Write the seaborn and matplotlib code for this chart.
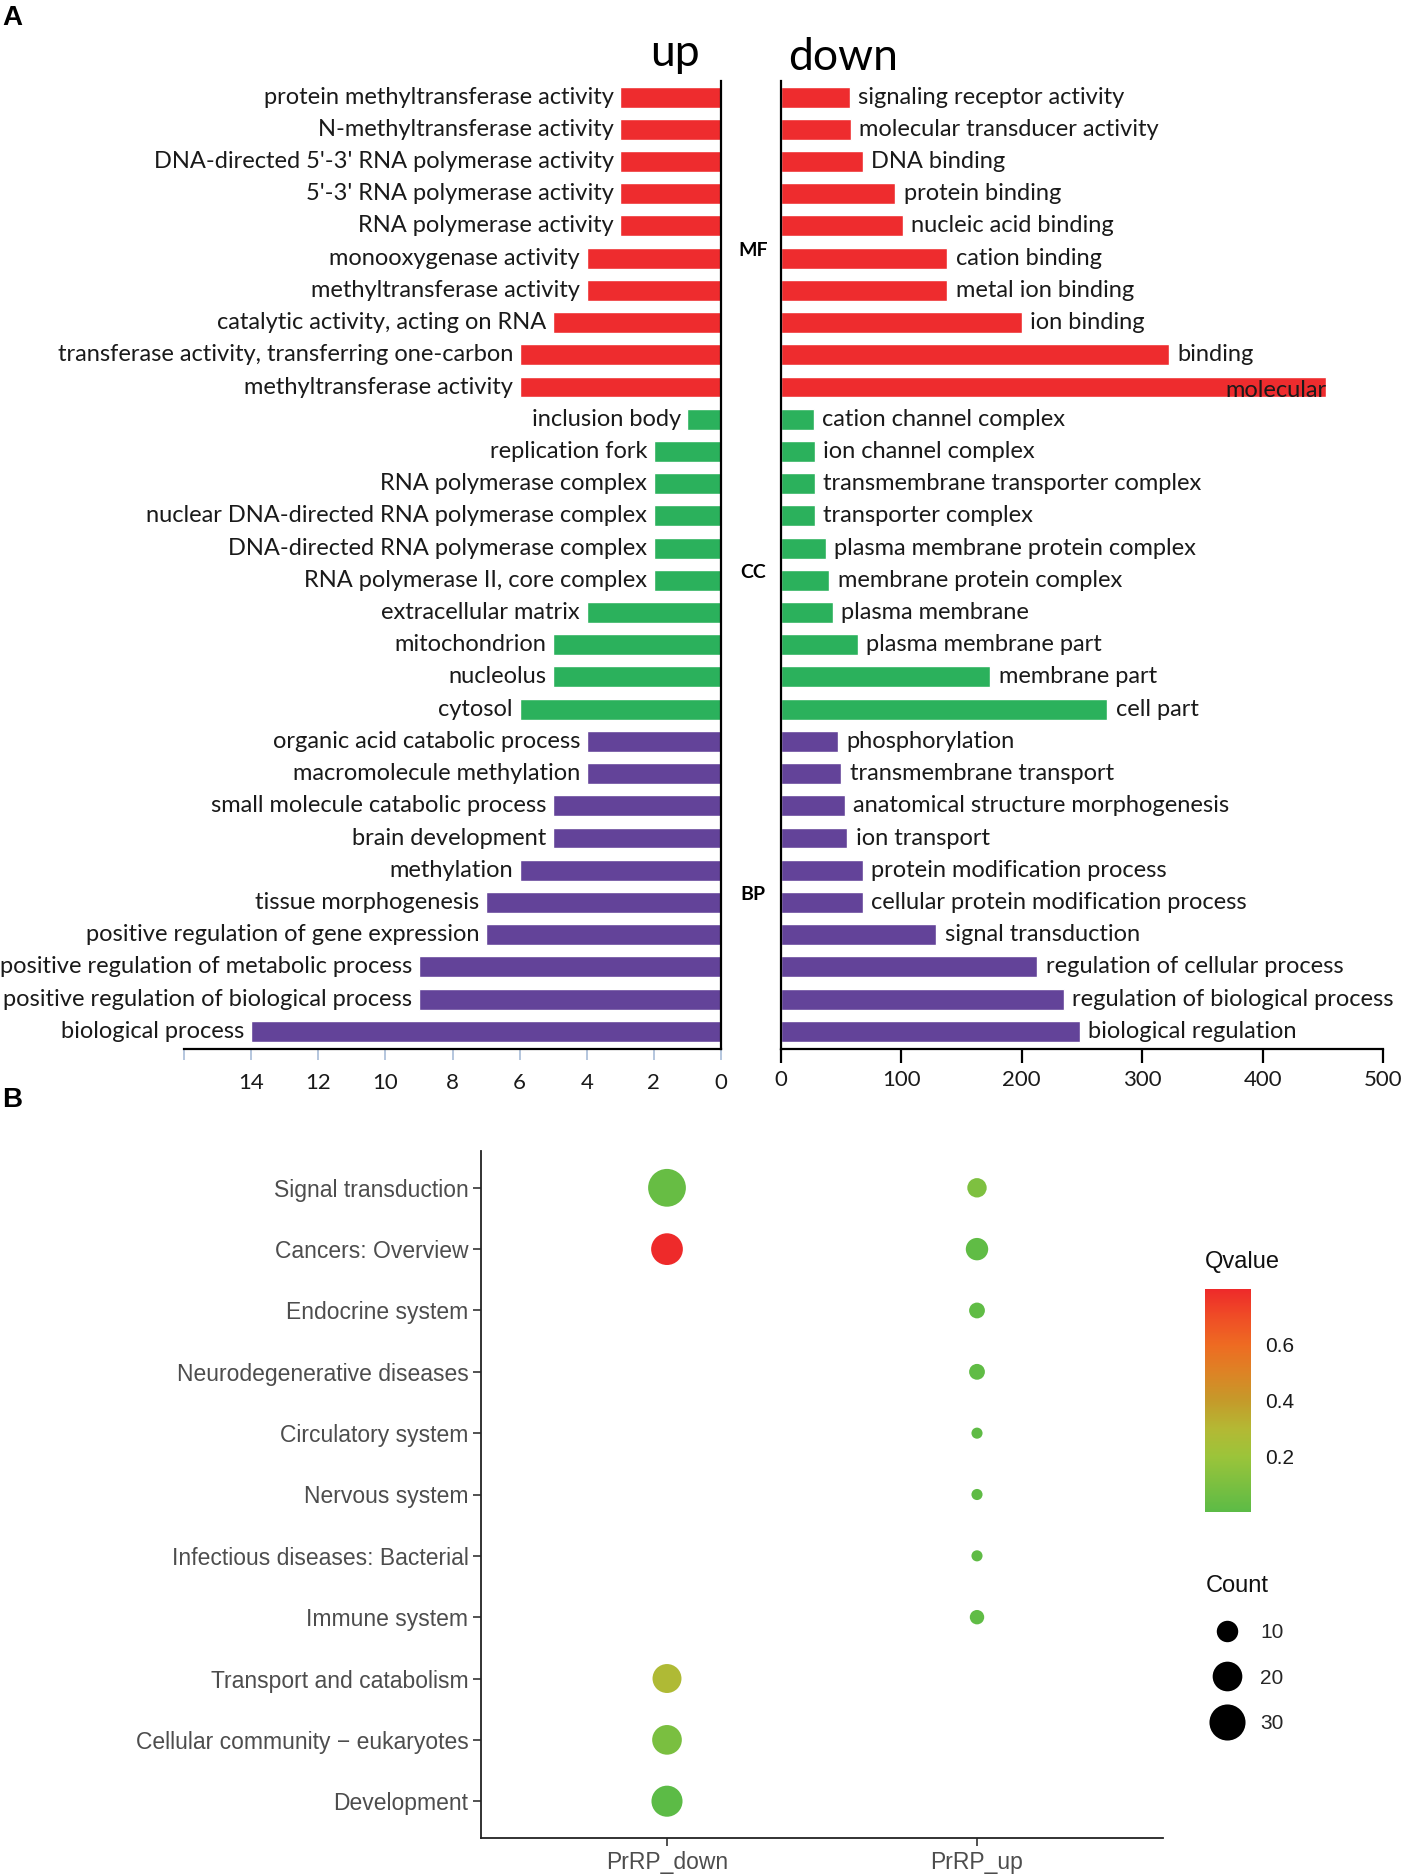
import matplotlib
matplotlib.use('Agg')
import matplotlib.pyplot as plt
import matplotlib.colors as mcolors
from matplotlib.lines import Line2D
import numpy as np
import pandas as pd
import seaborn as sns

# ---- Panel A: GO terms, up / down ----
go_class = ['MF'] * 10 + ['CC'] * 10 + ['BP'] * 10

up_terms = [
    'protein methyltransferase activity', 'N-methyltransferase activity',
    "DNA-directed 5'-3' RNA polymerase activity", "5'-3' RNA polymerase activity",
    'RNA polymerase activity', 'monooxygenase activity', 'methyltransferase activity',
    'catalytic activity, acting on RNA', 'transferase activity, transferring one-carbon',
    'methyltransferase activity',
    'inclusion body', 'replication fork', 'RNA polymerase complex',
    'nuclear DNA-directed RNA polymerase complex', 'DNA-directed RNA polymerase complex',
    'RNA polymerase II, core complex', 'extracellular matrix', 'mitochondrion',
    'nucleolus', 'cytosol',
    'organic acid catabolic process', 'macromolecule methylation',
    'small molecule catabolic process', 'brain development', 'methylation',
    'tissue morphogenesis', 'positive regulation of gene expression',
    'positive regulation of metabolic process', 'positive regulation of biological process',
    'biological process']
up_counts = [3, 3, 3, 3, 3, 4, 4, 5, 6, 6,
             1, 2, 2, 2, 2, 2, 4, 5, 5, 6,
             4, 4, 5, 5, 6, 7, 7, 9, 9, 14]

down_terms = [
    'signaling receptor activity', 'molecular transducer activity', 'DNA binding',
    'protein binding', 'nucleic acid binding', 'cation binding', 'metal ion binding',
    'ion binding', 'binding', 'molecular',
    'cation channel complex', 'ion channel complex', 'transmembrane transporter complex',
    'transporter complex', 'plasma membrane protein complex', 'membrane protein complex',
    'plasma membrane', 'plasma membrane part', 'membrane part', 'cell part',
    'phosphorylation', 'transmembrane transport', 'anatomical structure morphogenesis',
    'ion transport', 'protein modification process', 'cellular protein modification process',
    'signal transduction', 'regulation of cellular process',
    'regulation of biological process', 'biological regulation']
down_counts = [57, 58, 68, 95, 101, 138, 138, 200, 322, 453,
               27, 28, 28, 28, 37, 40, 43, 64, 174, 271,
               47, 50, 53, 55, 68, 68, 129, 213, 235, 248]

# ---- Panel B: KEGG dot plot ----
kegg_pathways = ['Signal transduction', 'Cancers: Overview', 'Endocrine system',
                 'Neurodegenerative diseases', 'Circulatory system', 'Nervous system',
                 'Infectious diseases: Bacterial', 'Immune system',
                 'Transport and catabolism', 'Cellular community \u2212 eukaryotes',
                 'Development']
kegg_groups = ['PrRP_down', 'PrRP_up']
dot_group = ['PrRP_down'] * 5 + ['PrRP_up'] * 8
dot_pathway = ['Signal transduction', 'Cancers: Overview', 'Transport and catabolism',
               'Cellular community \u2212 eukaryotes', 'Development',
               'Signal transduction', 'Cancers: Overview', 'Endocrine system',
               'Neurodegenerative diseases', 'Circulatory system', 'Nervous system',
               'Infectious diseases: Bacterial', 'Immune system']
dot_count = [33, 23, 19, 20, 22, 8, 11, 5, 5, 2, 2, 2, 4]
dot_qvalue = [0.04, 0.795, 0.28, 0.10, 0.005, 0.11, 0.02, 0.02, 0.02, 0.015, 0.015, 0.015, 0.02]

W, H = 1406, 1875


def box(x0, y0, x1, y1):
    # pixel box -> figure fraction [left, bottom, width, height]
    return [x0 / W, 1 - y1 / H, (x1 - x0) / W, (y1 - y0) / H]


sns.set_theme(style='white')
plt.rcParams['font.family'] = ['Lato', 'DejaVu Sans']

fig = plt.figure(figsize=(W / 100, H / 100), dpi=100)

class_colors = {'MF': '#ee2c2e', 'CC': '#2bb15c', 'BP': '#634399'}
text_col = '#1a1a1a'
label_size = 17

ax_up = fig.add_axes(box(184, 81, 721, 1049))
ax_dn = fig.add_axes(box(781, 81, 1383, 1049))

df_up = pd.DataFrame({'pos': range(len(up_terms)), 'term': up_terms,
                      'count': up_counts, 'cls': go_class})
df_dn = pd.DataFrame({'pos': range(len(down_terms)), 'term': down_terms,
                      'count': down_counts, 'cls': go_class})

for ax, d in [(ax_up, df_up), (ax_dn, df_dn)]:
    sns.barplot(data=d, x='count', y='pos', hue='cls', palette=class_colors,
                orient='h', dodge=False, width=0.65, saturation=1,
                legend=False, ax=ax)
    ax.set_ylim(29.55, -0.5)
    ax.set_yticks([])
    ax.set_xlabel('')
    ax.set_ylabel('')
    ax.set_facecolor('none')
    for s in ax.spines.values():
        s.set_visible(False)
    ax.spines['bottom'].set_visible(True)
    ax.spines['bottom'].set_color('black')
    ax.spines['bottom'].set_linewidth(1.6)

# left (up) panel
ax_up.set_xlim(16, 0)
ax_up.spines['right'].set_visible(True)
ax_up.spines['right'].set_color('black')
ax_up.spines['right'].set_linewidth(1.6)
ax_up.set_xticks(range(0, 17, 2))
ax_up.set_xticklabels([str(v) if v < 16 else '' for v in range(0, 17, 2)])
ax_up.tick_params(axis='x', bottom=True, direction='out', length=8, width=1.2,
                  color='#a8bcd8', labelsize=16, labelcolor=text_col, pad=9)
for i, (t, c) in enumerate(zip(up_terms, up_counts)):
    ax_up.text(c + 0.2, i, t, ha='right', va='center', fontsize=label_size, color=text_col)

# right (down) panel
ax_dn.set_xlim(0, 500)
ax_dn.spines['left'].set_visible(True)
ax_dn.spines['left'].set_color('black')
ax_dn.spines['left'].set_linewidth(1.6)
ax_dn.set_xticks(range(0, 501, 100))
ax_dn.tick_params(axis='x', bottom=True, direction='out', length=10, width=1.6,
                  color='black', labelsize=16, labelcolor=text_col, pad=5)
for i, (t, c) in enumerate(zip(down_terms, down_counts)):
    if c > 420:
        ax_dn.text(c, i + 0.1, t, ha='right', va='center', fontsize=label_size, color=text_col)
    else:
        ax_dn.text(c + 7, i, t, ha='left', va='center', fontsize=label_size, color=text_col)

# class labels between the two panels
for cls in ['MF', 'CC', 'BP']:
    mid = np.mean([i for i, g in enumerate(go_class) if g == cls]) + 0.25
    ax_dn.text(-0.047, mid, cls, transform=ax_dn.get_yaxis_transform(),
               ha='center', va='center', fontsize=14, fontweight='bold', color='black')

fig.text(675 / W, 1 - 54 / H, 'up', ha='center', va='center', fontsize=32, color='black')
fig.text(843 / W, 1 - 58 / H, 'down', ha='center', va='center', fontsize=32, color='black')
fig.text(2 / W, 1 - 18 / H, 'A', ha='left', va='center', fontsize=20, fontweight='bold',
         family='Liberation Sans', color='black')
fig.text(2 / W, 1 - 1100 / H, 'B', ha='left', va='center', fontsize=20, fontweight='bold',
         family='Liberation Sans', color='black')

# ---- Panel B ----
q_cmap = mcolors.LinearSegmentedColormap.from_list(
    'qv', [(0.0, '#5cbb46'), (0.25, '#9cc43a'), (0.375, '#b4b834'), (0.5, '#c59a2a'),
           (0.625, '#dd8325'), (0.75, '#ee6b22'), (0.875, '#ef4d26'), (1.0, '#ee2a2a')])
q_norm = mcolors.Normalize(min(dot_qvalue), max(dot_qvalue))
size_range = (64, 740)
count_norm = (min(dot_count), max(dot_count))

df_b = pd.DataFrame({'group': pd.Categorical(dot_group, categories=kegg_groups),
                     'pathway': pd.Categorical(dot_pathway, categories=kegg_pathways),
                     'count': dot_count, 'qvalue': dot_qvalue})

ax_b = fig.add_axes(box(481, 1151, 1163, 1838))
sns.scatterplot(data=df_b, x='group', y='pathway', hue='qvalue', size='count',
                palette=q_cmap, hue_norm=q_norm, sizes=size_range, size_norm=count_norm,
                linewidth=0, alpha=1, legend=False, ax=ax_b)
ax_b.set_xlim(-0.6, 1.6)
ax_b.set_ylim(len(kegg_pathways) - 0.4, -0.6)
ax_b.set_xlabel('')
ax_b.set_ylabel('')
sns.despine(ax=ax_b)
for s in ['left', 'bottom']:
    ax_b.spines[s].set_color('#222222')
    ax_b.spines[s].set_linewidth(1.3)
ax_b.tick_params(left=True, bottom=True, direction='out', length=6, width=1.2,
                 color='#333333', labelsize=16.5, labelcolor='#4d4d4d', pad=3)
for lbl in ax_b.get_xticklabels() + ax_b.get_yticklabels():
    lbl.set_fontfamily('Liberation Sans')

# Qvalue colour bar
cax = fig.add_axes(box(1205, 1289, 1251, 1512))
sm = plt.cm.ScalarMappable(norm=q_norm, cmap=q_cmap)
cb = fig.colorbar(sm, cax=cax, ticks=[0.2, 0.4, 0.6])
cb.outline.set_visible(False)
cax.tick_params(direction='in', length=8, width=1.2, color='white', left=True, right=True,
                labelsize=15, labelcolor='#1a1a1a', pad=10)
for lbl in cax.get_yticklabels():
    lbl.set_fontfamily('Liberation Sans')
fig.text(1205 / W, 1 - 1262 / H, 'Qvalue', ha='left', va='center', fontsize=17,
         family='Liberation Sans', color='#111111')

# Count size legend
legend_counts = [10, 20, 30]
handles = []
for c in legend_counts:
    s = size_range[0] + (c - count_norm[0]) / (count_norm[1] - count_norm[0]) * (size_range[1] - size_range[0])
    handles.append(Line2D([], [], marker='o', ls='', color='black', markeredgewidth=0,
                          markersize=np.sqrt(s)))
leg = fig.legend(handles, [str(c) for c in legend_counts], title='Count',
                 loc='upper left', bbox_to_anchor=(1187 / W, 1 - 1556 / H),
                 frameon=False, title_fontsize=17, labelspacing=1.27,
                 handletextpad=0.6, alignment='left', prop={'family': 'Liberation Sans', 'size': 15})
leg.get_title().set_fontfamily('Liberation Sans')
leg.get_title().set_color('#111111')

fig.savefig('out.png', dpi=100)
